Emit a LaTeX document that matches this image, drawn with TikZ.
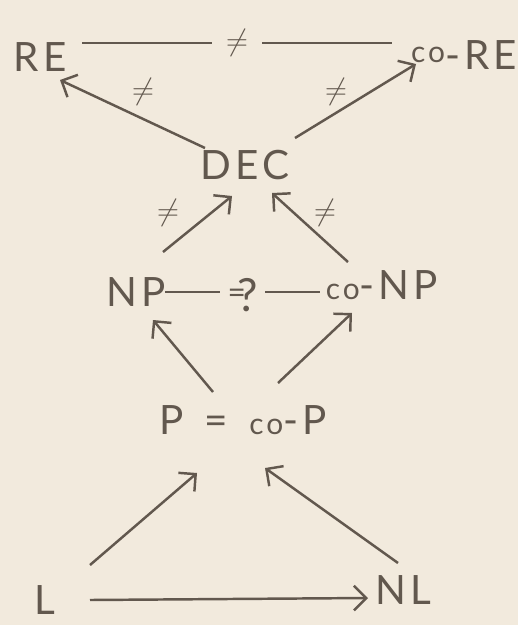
\documentclass[tikz,border=0pt]{standalone}
\usepackage{fontspec}
\setsansfont[LetterSpace=10]{Lato}
\usetikzlibrary{arrows.meta,calc}
\definecolor{paper}{RGB}{242,234,221}
\definecolor{pen}{RGB}{98,88,78}
\newcommand{\lc}[1]{{\fontsize{17}{20}\selectfont #1}}
\tikzset{
  cls/.style={font=\sffamily\fontsize{23}{27}\selectfont, text=pen, inner sep=0pt},
  sub/.style={draw=pen, line width=1.4pt, -{Straight Barb[length=7pt,width=14pt]}},
  rel/.style={draw=pen, line width=1.4pt},
  neq/.style={text=pen, font=\fontsize{18}{21}\selectfont, inner sep=1pt}
}
\begin{document}
\begin{tikzpicture}[x=0.02cm,y=-0.02cm]
\fill[paper] (0,0) rectangle (518,625);
\useasboundingbox (0,0) rectangle (518,625);
% classes
\node[cls] (re) at (40,57) {RE};
\node[cls] (core) at (464,55) {\raisebox{4pt}{\lc{co}}-RE};
\node[cls] (dec) at (245,165) {DEC};
\node[cls] (np) at (136,292) {NP};
\node[cls] (conp) at (382,285) {\lc{co}-NP};
\node[cls] (p) at (243,420) {P \,=\, \lc{co}-P};
\node[cls] (l) at (45,600) {L};
\node[cls] (nl) at (403,590) {NL};
% top row
\draw[rel] ($(re)+(42,-14)$) -- node[neq,fill=paper,inner sep=8pt] (ne1) {$\neq$} ($(core)+(-72,-12)$);
\draw[sub] ($(dec)+(-40,-17)$) -- ($(re)+(20,23)$);
\draw[sub] ($(dec)+(50,-27)$) -- ($(core)+(-48,9)$);
\node[neq] (ne2) at (143,92) {$\neq$};
\node[neq] (ne3) at (336,92) {$\neq$};
% NP and co-NP
\draw[sub] ($(np)+(27,-40)$) -- ($(dec)+(-13,31)$);
\draw[sub] ($(conp)+(-34,-23)$) -- ($(dec)+(27,28)$);
\node[neq] (ne4) at (168,213) {$\neq$};
\node[neq] (ne5) at (325,213) {$\neq$};
\draw[rel] ($(np)+(29,0)$) -- node[cls,fill=paper,inner sep=4pt,yshift=-2pt] (q)
  {\raisebox{5pt}{\fontsize{18}{20}\selectfont =}\kern-5pt{\fontsize{26}{30}\selectfont ?}} ($(conp)+(-62,7)$);
% P
\draw[sub] ($(p)+(-30,-28)$) -- ($(np)+(17,28)$);
\draw[sub] ($(p)+(35,-37)$) -- ($(conp)+(-30,28)$);
% L and NL
\draw[sub] ($(l)+(45,-35)$) -- ($(p)+(-46,53)$);
\draw[sub] ($(nl)+(-5,-27)$) -- ($(p)+(22,48)$);
\draw[sub] ($(l)+(45,0)$) -- ($(nl)+(-35,8)$);
\end{tikzpicture}
\end{document}
